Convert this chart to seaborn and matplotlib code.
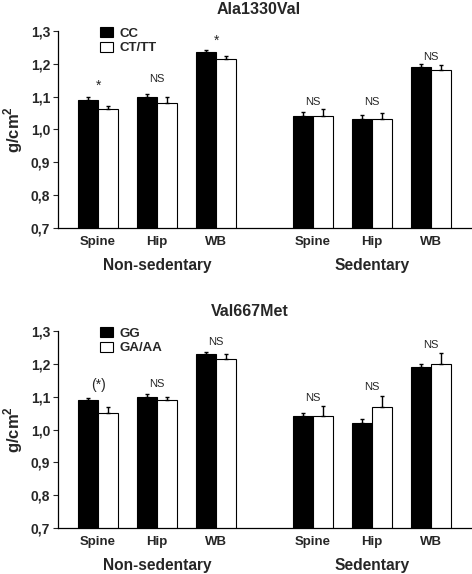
import numpy as np
import pandas as pd
import seaborn as sns
import matplotlib.pyplot as plt
from matplotlib.patches import Patch

# bar positions: three sites per activity group, gap between the groups
positions = [0, 1, 2, 3.64, 4.64, 5.64]
sites = ['Spine', 'Hip', 'WB', 'Spine', 'Hip', 'WB']
groups = ['Non-sedentary', 'Sedentary']

# Ala1330Val panel
ala_genotypes = ['CC', 'CT/TT']
ala_cc = [1.09, 1.10, 1.236, 1.042, 1.033, 1.191]
ala_cc_err = [0.008, 0.008, 0.007, 0.010, 0.011, 0.009]
ala_ct = [1.061, 1.081, 1.215, 1.042, 1.033, 1.181]
ala_ct_err = [0.012, 0.018, 0.008, 0.020, 0.017, 0.015]
ala_marks = ['*', 'NS', '*', 'NS', 'NS', 'NS']
ala_mark_y = [1.122, 1.146, 1.259, 1.076, 1.076, 1.213]

# Val667Met panel
val_genotypes = ['GG', 'GA/AA']
val_gg = [1.09, 1.10, 1.23, 1.04, 1.021, 1.19]
val_gg_err = [0.007, 0.009, 0.006, 0.010, 0.011, 0.010]
val_ga = [1.049, 1.09, 1.216, 1.04, 1.07, 1.20]
val_ga_err = [0.019, 0.010, 0.015, 0.031, 0.031, 0.032]
val_marks = ['(*)', 'NS', 'NS', 'NS', 'NS', 'NS']
val_mark_y = [1.123, 1.130, 1.257, 1.086, 1.119, 1.249]

FONT = ['Liberation Sans', 'DejaVu Sans']


def draw_panel(ax, title, title_pos, genotypes, vals_a, err_a, vals_b, err_b, marks, mark_y):
    df = pd.DataFrame({
        'pos': positions * 2,
        'value': vals_a + vals_b,
        'genotype': [genotypes[0]] * 6 + [genotypes[1]] * 6,
    })
    sns.barplot(data=df, x='pos', y='value', hue='genotype', hue_order=genotypes,
                palette={genotypes[0]: 'black', genotypes[1]: 'white'},
                native_scale=True, width=0.68, errorbar=None,
                edgecolor='black', linewidth=0.8, legend=False, ax=ax)

    # one-sided error bars on top of each bar
    for cont, errs in zip(ax.containers, [err_a, err_b]):
        xs = [b.get_x() + b.get_width() / 2 for b in cont]
        tops = [b.get_y() + b.get_height() for b in cont]
        ax.errorbar(xs, tops, yerr=[np.zeros(len(errs)), errs], fmt='none',
                    ecolor='black', elinewidth=1.0, capsize=1.6, capthick=1.0)

    for x, m, y in zip(positions, marks, mark_y):
        fs = {'(*)': 10, '*': 10}.get(m, 8)
        ax.text(x, y, m, ha='center', va='baseline', fontsize=fs)

    ax.set_ylim(0.7, 1.3)
    ax.set_xlim(-0.68, 6.32)
    ticks = np.arange(0.7, 1.31, 0.1)
    ax.set_yticks(ticks)
    ax.set_yticklabels([f'{v:.1f}'.replace('.', ',') for v in ticks],
                       fontweight='bold', fontsize=10)
    ax.set_xticks(positions)
    ax.set_xticklabels(sites, fontweight='bold', fontsize=9.5)
    ax.tick_params(axis='x', length=0, pad=6)
    ax.tick_params(axis='y', length=3.6, width=0.8, pad=2)
    ax.set_xlabel('')
    ax.set_ylabel(r'g/cm$^\mathbf{2}$', fontweight='bold', fontsize=12)
    ax.yaxis.set_label_coords(-0.08, 0.5)
    sns.despine(ax=ax)
    for s in ['left', 'bottom']:
        ax.spines[s].set_linewidth(0.9)
        ax.spines[s].set_color('black')

    for g, xs in zip(groups, [positions[:3], positions[3:]]):
        ax.annotate(g, xy=(np.mean(xs), 0), xycoords=('data', 'axes fraction'),
                    xytext=(0, -30.5), textcoords='offset points',
                    ha='center', va='baseline', fontweight='bold', fontsize=11.2)

    handles = [Patch(facecolor='black', edgecolor='black', linewidth=0.8),
               Patch(facecolor='white', edgecolor='black', linewidth=0.8)]
    ax.legend(handles, genotypes, loc='upper left', bbox_to_anchor=(0.102, 1.02),
              frameon=False, borderpad=0, borderaxespad=0,
              handlelength=0.96, handleheight=0.8, handletextpad=0.5,
              labelspacing=0.15, prop={'weight': 'bold', 'size': 9.5})

    ax.text(title_pos[0], title_pos[1], title, transform=ax.transAxes,
            ha='center', va='center', fontweight='bold', fontsize=11.5)


def main():
    sns.set_style('ticks')
    plt.rcParams['font.family'] = FONT
    plt.rcParams['mathtext.fontset'] = 'custom'
    plt.rcParams['mathtext.rm'] = 'Liberation Sans'
    plt.rcParams['mathtext.bf'] = 'Liberation Sans:bold'

    fig = plt.figure(figsize=(4.72, 5.74), dpi=100)
    ax1 = fig.add_axes([0.1229, 0.6028, 0.8751, 0.3432])
    ax2 = fig.add_axes([0.1229, 0.0801, 0.8751, 0.3432])

    draw_panel(ax1, 'Ala1330Val', ((259 - 58) / 413, 1 + 21 / 197),
               ala_genotypes, ala_cc, ala_cc_err, ala_ct, ala_ct_err,
               ala_marks, ala_mark_y)
    draw_panel(ax2, 'Val667Met', ((250 - 58) / 413, 1 + 20 / 197),
               val_genotypes, val_gg, val_gg_err, val_ga, val_ga_err,
               val_marks, val_mark_y)

    fig.savefig('out.png', dpi=100)
    plt.close(fig)


if __name__ == '__main__':
    main()
